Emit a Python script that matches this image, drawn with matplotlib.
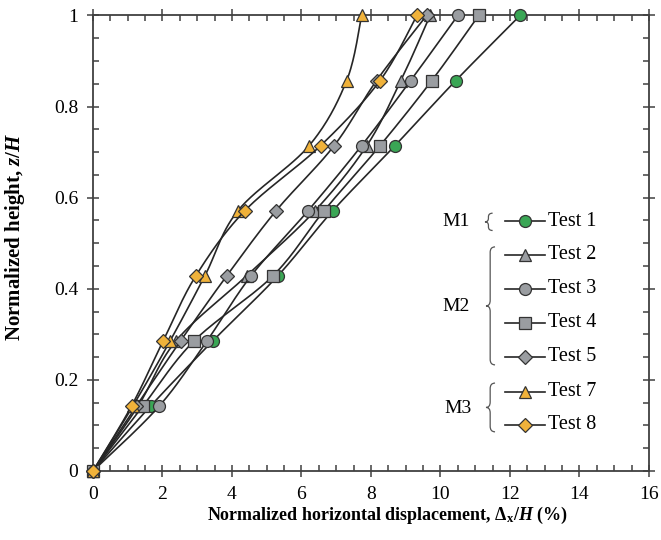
""" Drift profiles """

import numpy as np
import matplotlib.pyplot as plt
from matplotlib.path import Path
from matplotlib.patches import PathPatch

plt.rcParams["font.family"] = "Liberation Serif"
plt.rcParams["mathtext.fontset"] = "custom"
plt.rcParams["mathtext.rm"] = "Liberation Serif:bold"
plt.rcParams["mathtext.it"] = "Liberation Serif:bold:italic"
plt.rcParams["mathtext.bf"] = "Liberation Serif:bold"

# storey levels, normalized by total height
heights = [0, 1 / 7, 2 / 7, 3 / 7, 4 / 7, 5 / 7, 6 / 7, 1]

# normalized horizontal displacement (%) at each level
test1 = [0, 1.66, 3.45, 5.32, 6.90, 8.69, 10.44, 12.29]
test2 = [0, 1.30, 2.39, 4.42, 6.39, 7.88, 8.86, 9.70]
test3 = [0, 1.91, 3.28, 4.55, 6.19, 7.73, 9.14, 10.50]
test4 = [0, 1.44, 2.91, 5.18, 6.65, 8.26, 9.75, 11.10]
test5 = [0, 1.25, 2.52, 3.85, 5.27, 6.94, 8.16, 9.60]
test7 = [0, 1.15, 2.22, 3.22, 4.17, 6.22, 7.30, 7.73]
test8 = [0, 1.11, 2.02, 2.96, 4.37, 6.55, 8.26, 9.32]

labels = ["Test 1", "Test 2", "Test 3", "Test 4", "Test 5", "Test 7", "Test 8"]
series = [test1, test2, test3, test4, test5, test7, test8]

GREEN = "#3aa655"
GRAY = "#9a9da1"
ORANGE = "#f0b23a"
EDGE = "#333333"
styles = [
    ("o", GREEN, 8.6),
    ("^", GRAY, 9.0),
    ("o", GRAY, 8.6),
    ("s", GRAY, 8.0),
    ("D", GRAY, 7.2),
    ("^", ORANGE, 9.0),
    ("D", ORANGE, 7.2),
]


def smooth(ax, xs, ys, steps=30):
    """Catmull-Rom style smoothing done in display space"""
    pts = ax.transData.transform(np.column_stack([xs, ys]))
    ext = np.vstack([pts[0], pts, pts[-1]])
    out = []
    for i in range(len(pts) - 1):
        p0, p1, p2, p3 = ext[i], ext[i + 1], ext[i + 2], ext[i + 3]
        c1 = p1 + (p2 - p0) / 6
        c2 = p2 - (p3 - p1) / 6
        t = np.linspace(0, 1, steps)[:, None]
        seg = ((1 - t) ** 3 * p1 + 3 * (1 - t) ** 2 * t * c1
               + 3 * (1 - t) * t ** 2 * c2 + t ** 3 * p2)
        out.append(seg if i == 0 else seg[1:])
    out = ax.transData.inverted().transform(np.vstack(out))
    return out[:, 0], out[:, 1]


def brace(ax, x_tip, y_top, y_bot, body=0.12, arm=0.14, r=0.012):
    """left curly brace from y_top to y_bot"""
    xb = x_tip + body
    ym = (y_top + y_bot) / 2
    verts = [
        (xb + arm, y_top), (xb, y_top), (xb, y_top - r),
        (xb, ym + r),
        (xb, ym), (x_tip, ym),
        (xb, ym), (xb, ym - r),
        (xb, y_bot + r),
        (xb, y_bot), (xb + arm, y_bot),
    ]
    codes = [
        Path.MOVETO, Path.CURVE3, Path.CURVE3,
        Path.LINETO,
        Path.CURVE3, Path.CURVE3,
        Path.CURVE3, Path.CURVE3,
        Path.LINETO,
        Path.CURVE3, Path.CURVE3,
    ]
    ax.add_patch(PathPatch(Path(verts, codes), fill=False, ec="#555555", lw=0.9))


fig = plt.figure(figsize=(6.61, 5.40), dpi=100)
ax = fig.add_axes([0.1407, 0.1278, 0.8411, 0.8435])
ax.set_xlim(0, 16)
ax.set_ylim(0, 1)

for vals, (mk, col, ms) in zip(series, styles):
    sx, sy = smooth(ax, vals, heights)
    ax.plot(sx, sy, color="#262626", lw=1.2, clip_on=False, zorder=3)
    ax.plot(vals, heights, ls="none", marker=mk, ms=ms, mfc=col, mec=EDGE,
            mew=0.9, clip_on=False, zorder=3)

# grouped legend with braces
leg_y = [0.548, 0.475, 0.400, 0.325, 0.251, 0.174, 0.101]
for lab, yy, (mk, col, ms) in zip(labels, leg_y, styles):
    ax.plot([11.86, 13.01], [yy, yy], color="#262626", lw=1.2, zorder=4)
    ax.plot(12.43, yy, marker=mk, ms=ms, mfc=col, mec=EDGE, mew=0.9, zorder=5)
    ax.text(13.09, yy, lab, fontsize=14.5, va="center", ha="left")

ax.text(10.45, 0.548, "M1", fontsize=14, va="center", ha="center")
ax.text(10.45, 0.361, "M2", fontsize=14, va="center", ha="center")
ax.text(10.50, 0.138, "M3", fontsize=14, va="center", ha="center")
brace(ax, 11.28, 0.566, 0.528, body=0.10, arm=0.12, r=0.008)
brace(ax, 11.31, 0.492, 0.233)
brace(ax, 11.31, 0.193, 0.086)

# frame and ticks
for side in ax.spines.values():
    side.set_color("#404040")
    side.set_linewidth(1.3)
ax.set_xticks(np.arange(0, 17, 2))
ax.set_yticks([0, 0.2, 0.4, 0.6, 0.8, 1.0])
ax.set_yticklabels(["0", "0.2", "0.4", "0.6", "0.8", "1"])
ax.set_xticks(np.arange(0, 16.01, 0.5), minor=True)
ax.set_yticks(np.arange(0, 1.001, 0.05), minor=True)
ax.tick_params(which="major", direction="inout", length=9, width=1.1,
               color="#404040", top=True, right=True, labelsize=14, pad=6)
ax.tick_params(which="minor", direction="in", length=4, width=1.1,
               color="#404040", top=True, right=True)

ax.set_xlabel(r"Normalized horizontal displacement, $\Delta_{\mathrm{x}}/H$ (%)",
              fontsize=13, fontweight="bold", labelpad=4)
ax.xaxis.set_label_coords(0.53, -0.075)
ax.set_ylabel(r"Normalized height, $z/H$", fontsize=15, fontweight="bold",
              labelpad=8)
ax.yaxis.set_label_coords(-0.118, 0.514)

fig.savefig("out.png", dpi=100)
